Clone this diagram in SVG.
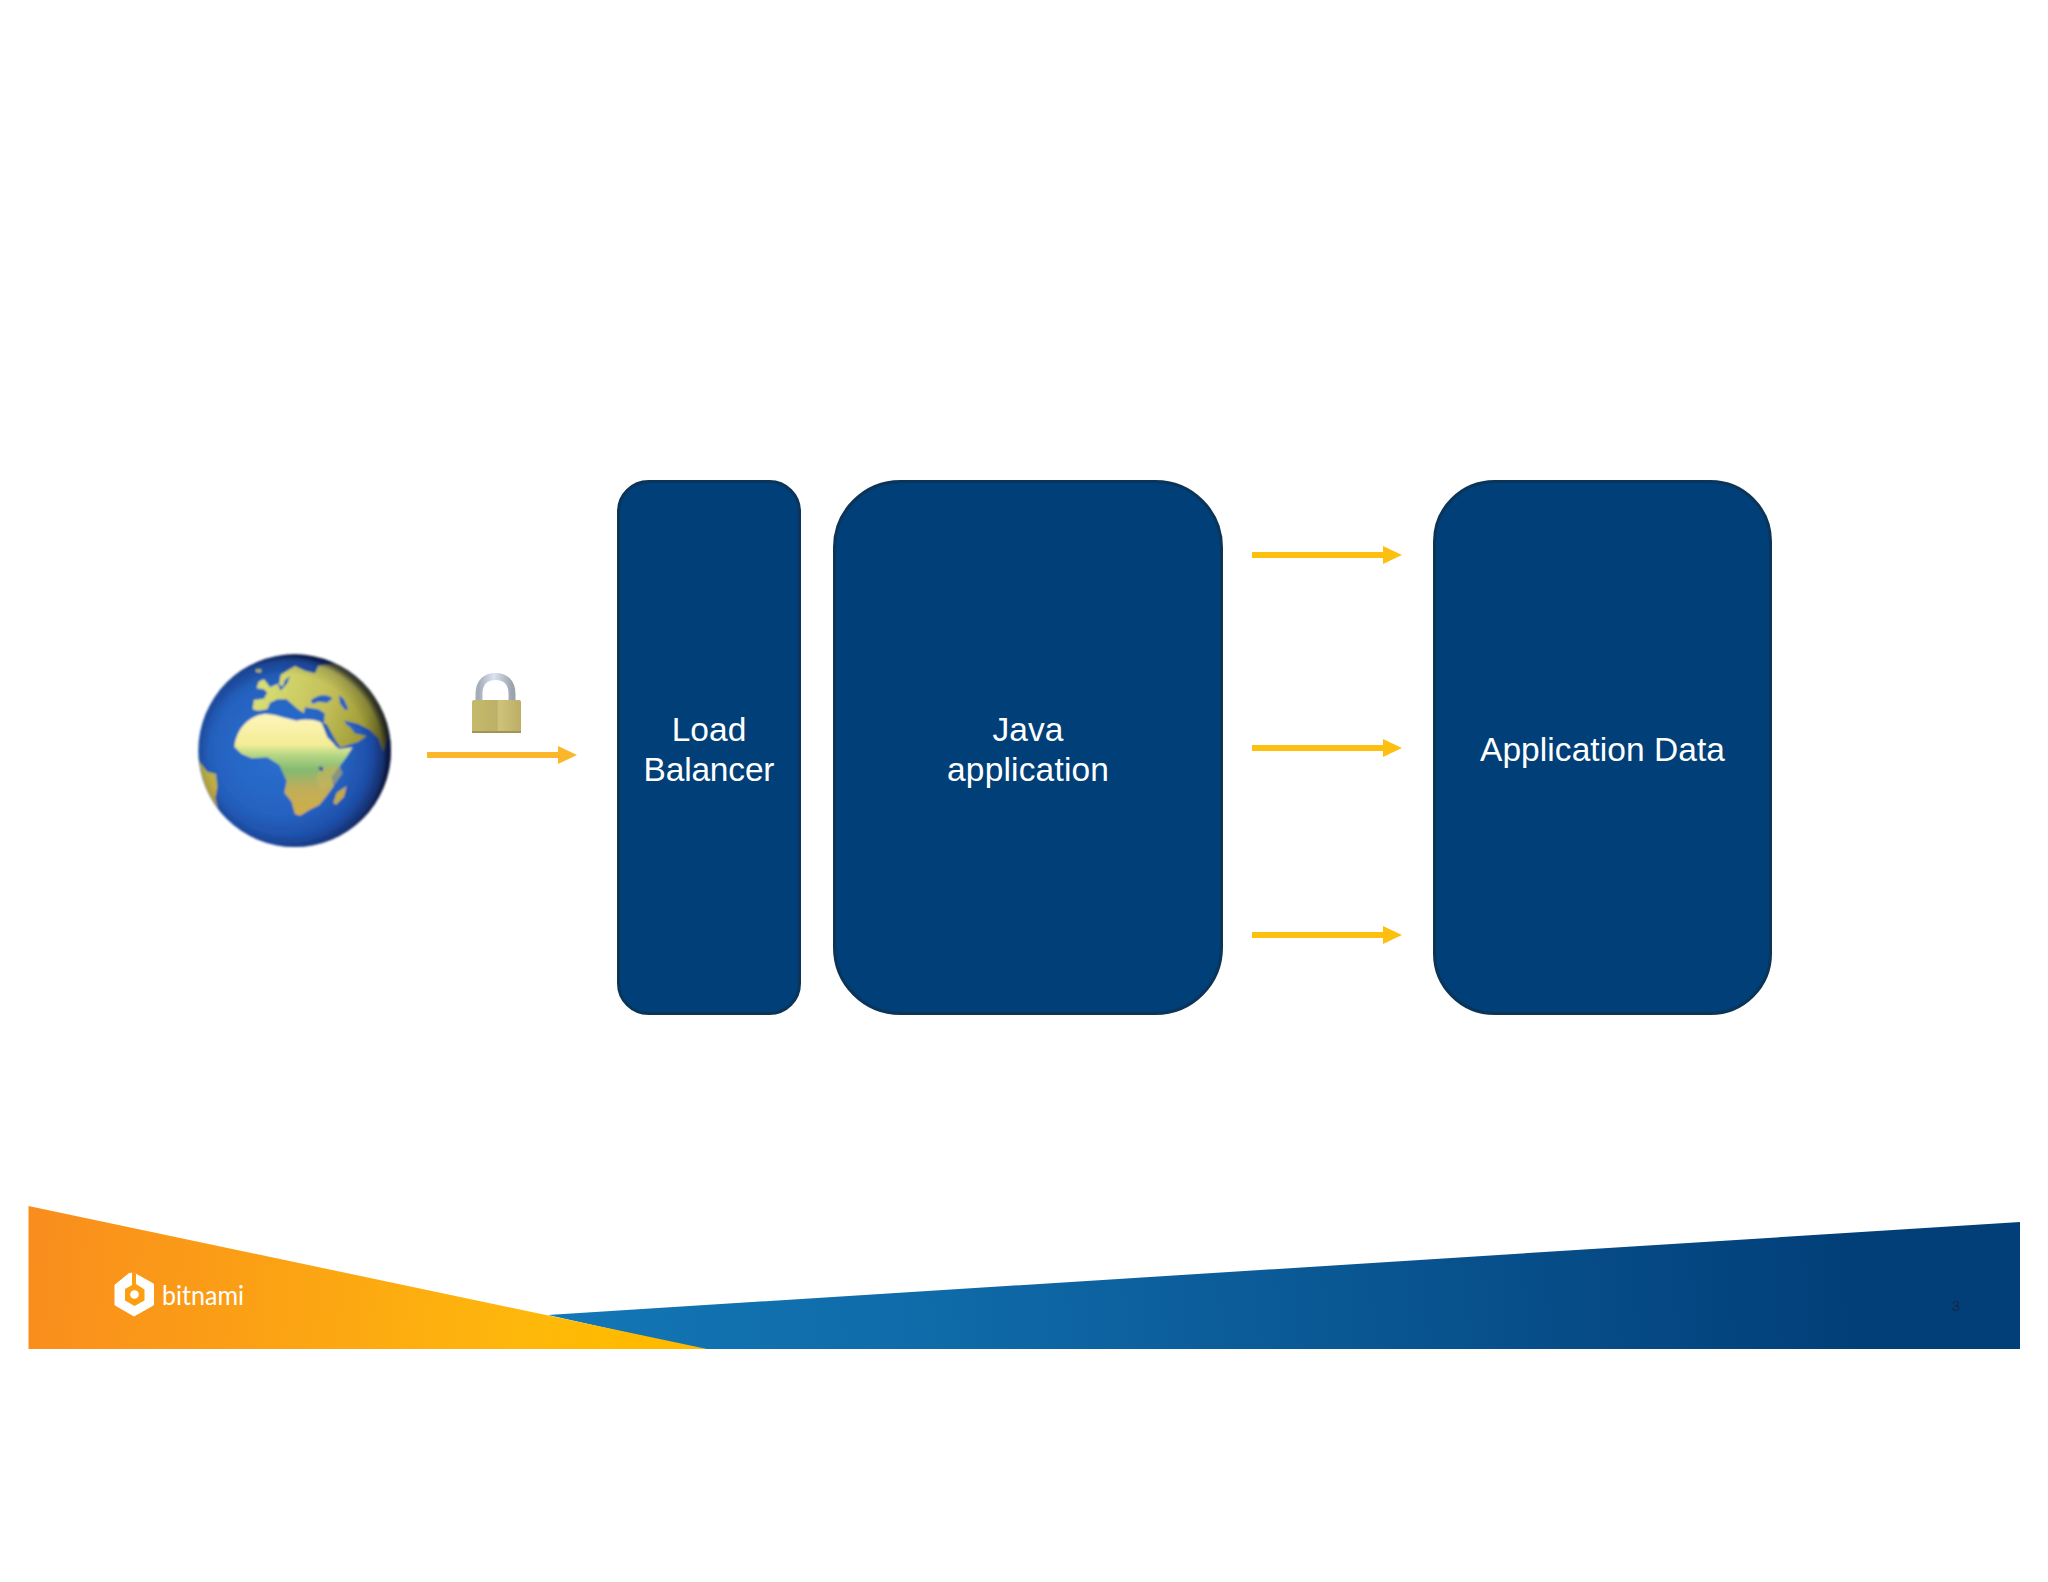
<svg xmlns="http://www.w3.org/2000/svg" width="2048" height="1582" viewBox="0 0 2048 1582">
<style>
.box{fill:#003f78;stroke:#0b3459;stroke-width:3}
.lbl{font-family:"Liberation Sans",Arial,sans-serif;font-size:33.500px;fill:#fff;text-anchor:middle}
.arr{stroke:#fdc010;stroke-width:6;fill:none;marker-end:url(#head)}
</style>
<defs>
<marker id="head" markerUnits="userSpaceOnUse" markerWidth="19" markerHeight="18" refX="0" refY="9" orient="auto"><path d="M0 0L19 9L0 18Z" fill="#fdc010"/></marker>
<marker id="head2" markerUnits="userSpaceOnUse" markerWidth="19" markerHeight="18" refX="0" refY="9" orient="auto"><path d="M0 0L19 9L0 18Z" fill="#fbb62b"/></marker>
<linearGradient id="orange" gradientUnits="userSpaceOnUse" x1="29" y1="1270" x2="620" y2="1330"><stop offset="0" stop-color="#f98d1d"/><stop offset="0.85" stop-color="#feb80b"/><stop offset="1" stop-color="#ffba00"/></linearGradient>
<linearGradient id="blue" gradientUnits="userSpaceOnUse" x1="560" y1="1345" x2="1850" y2="1260"><stop offset="0" stop-color="#1376b5"/><stop offset="0.3" stop-color="#0f6aa8"/><stop offset="1" stop-color="#023f79"/></linearGradient>
<radialGradient id="sea" gradientUnits="userSpaceOnUse" cx="270" cy="300" r="320"><stop offset="0" stop-color="#2b6fd0"/><stop offset="0.6" stop-color="#2563c0"/><stop offset="0.88" stop-color="#1d4ca6"/><stop offset="1" stop-color="#1a3579"/></radialGradient>
<linearGradient id="africa" gradientUnits="userSpaceOnUse" x1="0" y1="190" x2="0" y2="500"><stop offset="0" stop-color="#fdf6bc"/><stop offset="0.3" stop-color="#f4ed96"/><stop offset="0.41" stop-color="#b3d584"/><stop offset="0.55" stop-color="#84b971"/><stop offset="0.72" stop-color="#bfae5c"/><stop offset="1" stop-color="#d2ae42"/></linearGradient>
<linearGradient id="eurasia" gradientUnits="userSpaceOnUse" x1="220" y1="120" x2="590" y2="240"><stop offset="0" stop-color="#d6de72"/><stop offset="0.5" stop-color="#c3bf58"/><stop offset="0.82" stop-color="#a09c36"/><stop offset="1" stop-color="#6b6a1c"/></linearGradient>
<linearGradient id="amer" gradientUnits="userSpaceOnUse" x1="25" y1="340" x2="80" y2="470"><stop offset="0" stop-color="#b7b648"/><stop offset="1" stop-color="#c7a63e"/></linearGradient>
<radialGradient id="shade" gradientUnits="userSpaceOnUse" cx="295" cy="315" r="300"><stop offset="0.8" stop-color="#000" stop-opacity="0"/><stop offset="0.94" stop-color="#0a1030" stop-opacity="0.18"/><stop offset="1" stop-color="#050a20" stop-opacity="0.7"/></radialGradient>
<linearGradient id="brass" x1="0" y1="0" x2="1" y2="0"><stop offset="0" stop-color="#c5ba6c"/><stop offset="0.5" stop-color="#bdb066"/><stop offset="0.55" stop-color="#cfc27c"/><stop offset="1" stop-color="#bcae64"/></linearGradient>
<linearGradient id="shackle" x1="0" y1="0" x2="1" y2="0"><stop offset="0" stop-color="#a4aeb9"/><stop offset="0.45" stop-color="#dbe3f0"/><stop offset="1" stop-color="#9aa3ae"/></linearGradient>
<clipPath id="earth"><circle cx="314" cy="302" r="288"/></clipPath>
<filter id="soft" x="-5%" y="-5%" width="110%" height="110%"><feGaussianBlur stdDeviation="2.5"/></filter>
<filter id="soft2" x="-10%" y="-10%" width="120%" height="120%"><feGaussianBlur stdDeviation="0.7"/></filter>
</defs>
<rect width="2048" height="1582" fill="#fff"/>

<g id="footer">
<polygon points="548,1315 2020,1222 2020,1349 700,1349" fill="url(#blue)"/>
<polygon points="28.500,1206 707,1349 28.500,1349" fill="url(#orange)"/>
<g id="logo">
<path d="M129 1273.500L115 1285V1305L134 1316L153.500 1305V1284L134 1273Z" fill="#fff" stroke="#fff" stroke-width="1" stroke-linejoin="round"/>
<path d="M129.500 1272L132.500 1272L132.500 1284.500L134 1283.500L144.500 1289.500V1300.500L134.500 1306L125 1300.500V1285L123 1284.500V1277Z" fill="#fca513" opacity="0"/>
<path d="M132 1272H136V1284L144.500 1289.500V1300.500L134.500 1306L125 1300.500V1289L132 1285Z" fill="#fca012"/>
<circle cx="134.500" cy="1294.500" r="4.300" fill="#fff"/>
<text x="162" y="1305" font-family="Lato,'Open Sans',sans-serif" font-size="26" font-weight="400" fill="#fff" textLength="82" lengthAdjust="spacingAndGlyphs">bitnami</text>
</g>
<text x="1956" y="1311" font-family="'Liberation Sans',Arial,sans-serif" font-size="15" fill="#13294a" text-anchor="middle">3</text>
</g>

<g id="globe" transform="translate(190,650) scale(0.3333)">
<g filter="url(#soft)">
<circle cx="314" cy="302" r="289" fill="url(#sea)"/>
<g clip-path="url(#earth)">
<path d="M22 325L40 350L52 365L78 372L82 410L76 445L85 480L60 455L35 420Z" fill="url(#amer)"/>
<path d="M133 290C138 250 158 215 200 197C235 185 262 198 290 205L320 212C345 205 375 208 395 218L412 262L447 297L488 292L470 320L448 350L425 380L430 410L408 440L388 465L362 478L330 497L315 492L305 455L283 428L290 392L268 345L232 322L185 325L155 312Z" fill="url(#africa)"/>
<path d="M188 178L192 150L222 146L232 128L222 118L200 115L206 95L222 88L240 112L268 100L272 74L315 48L345 62L375 70L385 48L440 40L505 70L560 140L600 240L580 305L565 265L540 240L505 222L465 212L495 250L530 258L505 275L452 292L402 222L404 190L385 178L345 172L342 190L322 176L290 148L262 148L240 158L232 178L205 182Z" fill="url(#eurasia)"/>
<path d="M448 348L458 370L428 412L418 405L395 420L378 385L392 350Z" fill="#c9b45a" opacity="0.6"/>
<path d="M470 408L462 440L438 464L430 458L440 428Z" fill="#c3ab48"/>
<path d="M197 58L215 58L212 68L198 66Z" fill="#c7cb66"/>
<path d="M362 152C380 135 410 130 428 145L412 158L385 155L368 162Z" fill="#2563c0"/>
<path d="M447 135L462 148L475 178L465 180L450 160Z" fill="#2563c0"/>
<path d="M395 220L410 222L448 292L438 290Z" fill="#2a5fb0"/>
<path d="M462 210L500 235L520 245L500 243L470 225Z" fill="#2a68bd"/>
<path d="M386 350L398 350L400 362L388 362Z" fill="#2a5fb0"/>
<path d="M262 100L278 110L285 90L300 78L292 100L272 122Z" fill="#2563c0"/>
</g>
<circle cx="314" cy="302" r="289" fill="url(#shade)"/>
</g>
</g>

<g id="lock" filter="url(#soft2)">
<path d="M479 702V694C479 682 486 676.500 495.500 676.500C505 676.500 512 682 512 694V702" fill="none" stroke="url(#shackle)" stroke-width="7"/>
<rect x="472" y="700" width="49" height="33" rx="2" fill="url(#brass)"/>
<rect x="472" y="731" width="49" height="2" fill="#a09556"/>
</g>

<g id="load-balancer">
<rect class="box" x="618.500" y="481.500" width="181" height="532" rx="30"/>
<text class="lbl" x="709" y="741">Load</text>
<text class="lbl" x="709" y="781" textLength="131">Balancer</text>
</g>
<g id="java-application">
<rect class="box" x="834.500" y="481.500" width="387" height="532" rx="66"/>
<text class="lbl" x="1028" y="741">Java</text>
<text class="lbl" x="1028" y="781" textLength="162">application</text>
</g>
<g id="application-data">
<rect class="box" x="1434.500" y="481.500" width="336" height="532" rx="60"/>
<text class="lbl" x="1602.500" y="760.500" textLength="245">Application Data</text>
</g>

<g id="connectors">
<line x1="427" y1="755" x2="558" y2="755" stroke="#fbb62b" stroke-width="6" marker-end="url(#head2)"/>
<line class="arr" x1="1252" y1="555" x2="1383" y2="555"/>
<line class="arr" x1="1252" y1="748" x2="1383" y2="748"/>
<line class="arr" x1="1252" y1="935" x2="1383" y2="935"/>
</g>
</svg>
